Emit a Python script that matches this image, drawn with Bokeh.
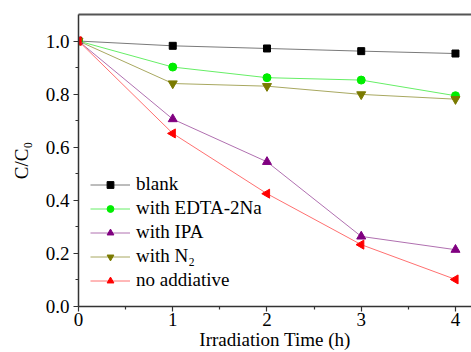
import math
from bokeh.plotting import figure
from bokeh.models import (Range1d, Legend, LegendItem, LinearAxis, FixedTicker,
                          NumeralTickFormatter)
from bokeh.embed import file_html
from bokeh.resources import INLINE

time_h = [0, 1, 2, 3, 4]
blank = [1.0, 0.982, 0.972, 0.962, 0.953]
edta = [1.0, 0.902, 0.862, 0.853, 0.794]
ipa = [1.0, 0.706, 0.545, 0.264, 0.214]
n2 = [1.0, 0.840, 0.830, 0.799, 0.781]
no_add = [1.0, 0.652, 0.425, 0.233, 0.102]

labels = ["blank", "with EDTA-2Na", "with IPA", "with N\u2082", "no addiative"]
x_ticks = [0, 1, 2, 3, 4]
y_ticks = [0.0, 0.2, 0.4, 0.6, 0.8, 1.0]

FONT = "Liberation Serif"

p = figure(width=471, height=352, output_backend="svg", toolbar_location=None,
           x_range=Range1d(0, 4.17), y_range=Range1d(0, 1.1),
           min_border_left=78, min_border_right=0, min_border_top=14,
           min_border_bottom=46, background_fill_color="white",
           border_fill_color="white")
p.outline_line_color = None
p.grid.visible = False

series = [
    (blank, "square", "black", "#7a7a7a", 7, 0),
    (edta, "circle", "#00ee00", "#66ee66", 8, 0),
    (ipa, "triangle", "#800080", "#b070b0", 9, 0),
    (n2, "inverted_triangle", "#7a7a00", "#a8a860", 9, 0),
    (no_add, "triangle", "#ff0000", "#ff7070", 9, math.pi / 2),
]

items = []
for (vals, marker, mcol, lcol, size, ang), lab in zip(series, labels):
    l = p.line(time_h, vals, line_color=lcol, line_width=1)
    s = p.scatter(time_h, vals, marker=marker, size=size, fill_color=mcol,
                  line_color=mcol, angle=ang)
    items.append(LegendItem(label=lab, renderers=[l, s]))

legend = Legend(items=items, location=(12, 14), label_text_font=FONT,
                label_text_font_size="19px", label_text_color="black",
                glyph_width=40, glyph_height=17, label_height=24, spacing=0,
                padding=0, margin=0, border_line_color=None,
                background_fill_alpha=0, label_standoff=6)
p.add_layout(legend)

for ax in (p.xaxis[0], p.yaxis[0]):
    ax.axis_line_color = "#333333"
    ax.axis_line_width = 1.5
    ax.major_tick_line_color = "#333333"
    ax.minor_tick_line_color = "#333333"
    ax.major_tick_line_width = 1.2
    ax.minor_tick_line_width = 1.2
    ax.major_tick_out = 5
    ax.major_tick_in = 0
    ax.minor_tick_out = 3
    ax.minor_tick_in = 0
    ax.major_label_text_font = FONT
    ax.major_label_text_font_size = "19px"
    ax.major_label_text_color = "black"
    ax.axis_label_text_font = FONT
    ax.axis_label_text_font_size = "19px"
    ax.axis_label_text_font_style = "normal"
    ax.axis_label_text_color = "black"

p.xaxis[0].ticker = FixedTicker(ticks=x_ticks, minor_ticks=[0.5, 1.5, 2.5, 3.5])
p.yaxis[0].ticker = FixedTicker(ticks=y_ticks, minor_ticks=[0.1, 0.3, 0.5, 0.7, 0.9])
p.yaxis[0].formatter = NumeralTickFormatter(format="0.0")
p.xaxis[0].axis_label = "Irradiation Time (h)"
p.yaxis[0].axis_label = "C/C\u2080"
p.xaxis[0].major_label_standoff = 1
p.xaxis[0].axis_label_standoff = 0
p.yaxis[0].major_label_standoff = 4
p.yaxis[0].axis_label_standoff = 11

top = LinearAxis(axis_line_color="#555555", axis_line_width=2,
                 major_tick_line_color=None, minor_tick_line_color=None,
                 major_label_text_font_size="0px", ticker=FixedTicker(ticks=[]))
p.add_layout(top, "above")

open("out.html", "w").write(file_html(p, INLINE))
